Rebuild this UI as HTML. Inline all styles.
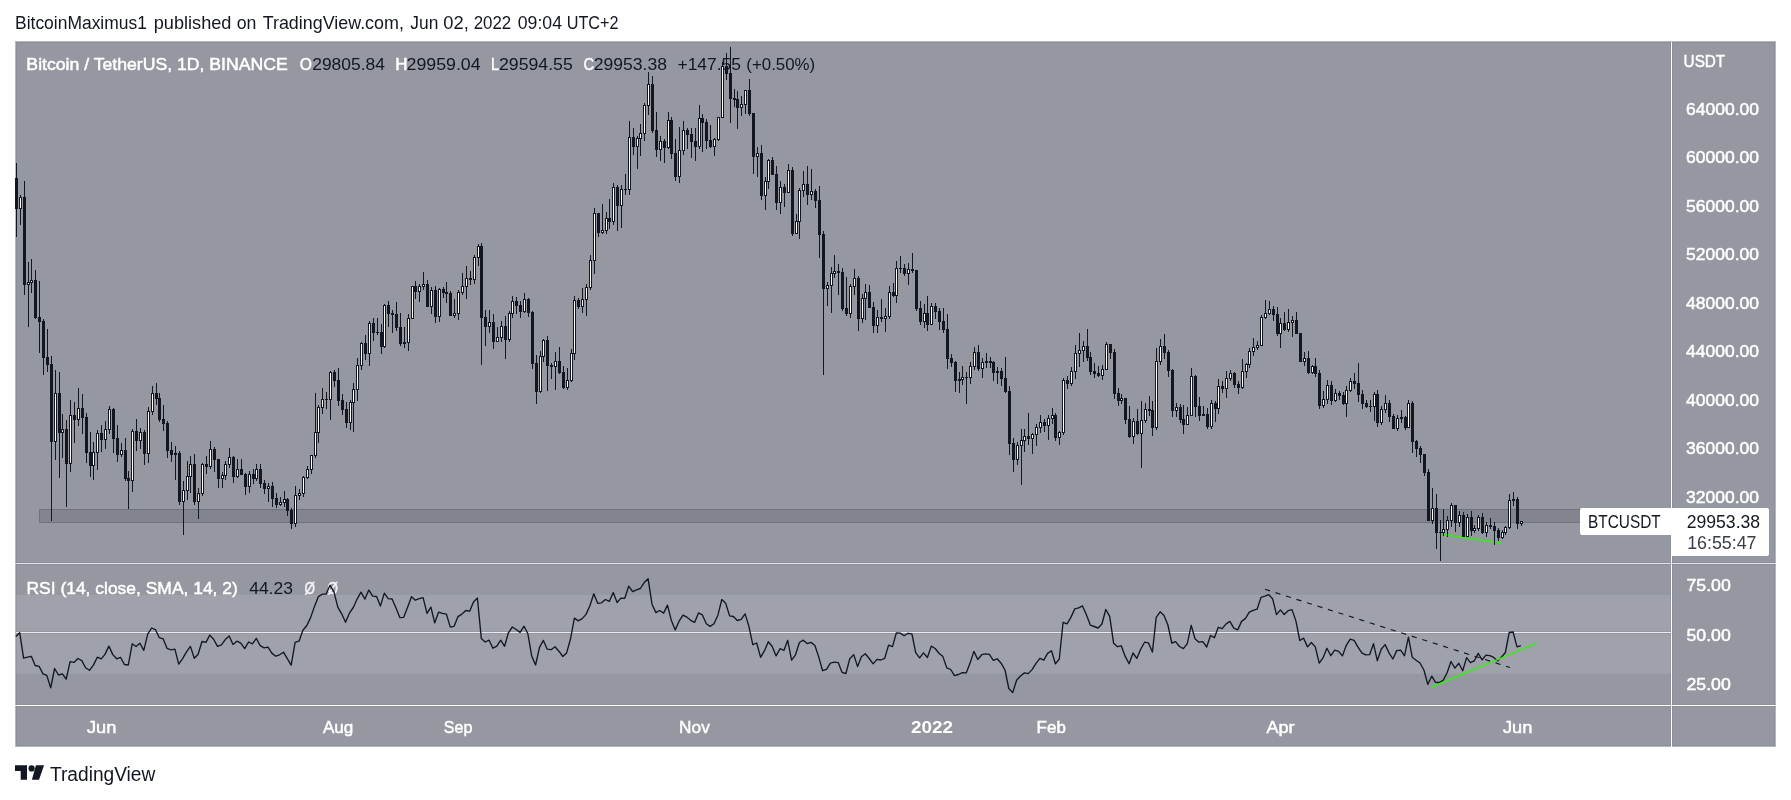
<!DOCTYPE html>
<html><head><meta charset="utf-8"><style>
html,body{margin:0;padding:0;background:#fff;}
body{width:1791px;height:800px;overflow:hidden;}
svg text{font-family:"Liberation Sans",sans-serif;}
</style></head><body>
<svg width="1791" height="800" viewBox="0 0 1791 800" style="display:block;will-change:transform">
<rect x="15" y="41" width="1761" height="706" fill="#b4b7c1"/>
<rect x="16" y="42" width="1759" height="704" fill="#9598a1"/>
<rect x="16" y="594.9" width="1655" height="78.8" fill="#a0a2ab"/>
<rect x="39.5" y="509.5" width="1631.5" height="13" fill="#82858f" stroke="#6f727c" stroke-width="1"/>
<line x1="1441" y1="534.2" x2="1501.7" y2="543.3" stroke="#2ef20c" stroke-width="1.5"/>
<text x="26.39" y="70.1" font-size="17.4" fill="#fff" font-weight="normal" textLength="261.3" lengthAdjust="spacingAndGlyphs" stroke="#fff" stroke-width="0.5">Bitcoin / TetherUS, 1D, BINANCE</text>
<text x="299.8" y="70.1" font-size="17.4" fill="#fff" font-weight="normal" textLength="12.2" lengthAdjust="spacingAndGlyphs" stroke="#fff" stroke-width="0.5">O</text>
<text x="312.2" y="70.1" font-size="17.4" fill="#131722" font-weight="normal" textLength="72.8" lengthAdjust="spacingAndGlyphs">29805.84</text>
<text x="395.32" y="70.1" font-size="17.4" fill="#fff" font-weight="normal" textLength="12.3" lengthAdjust="spacingAndGlyphs" stroke="#fff" stroke-width="0.5">H</text>
<text x="406.58" y="70.1" font-size="17.4" fill="#131722" font-weight="normal" textLength="74.0" lengthAdjust="spacingAndGlyphs">29959.04</text>
<text x="490.97" y="70.1" font-size="17.4" fill="#fff" font-weight="normal" textLength="8.1" lengthAdjust="spacingAndGlyphs" stroke="#fff" stroke-width="0.5">L</text>
<text x="498.98" y="70.1" font-size="17.4" fill="#131722" font-weight="normal" textLength="73.8" lengthAdjust="spacingAndGlyphs">29594.55</text>
<text x="583.5" y="70.1" font-size="17.4" fill="#fff" font-weight="normal" textLength="10.6" lengthAdjust="spacingAndGlyphs" stroke="#fff" stroke-width="0.5">C</text>
<text x="593.79" y="70.1" font-size="17.4" fill="#131722" font-weight="normal" textLength="73.2" lengthAdjust="spacingAndGlyphs">29953.38</text>
<text x="677.5" y="70.1" font-size="17.4" fill="#131722" font-weight="normal" textLength="63.4" lengthAdjust="spacingAndGlyphs">+147.55</text>
<text x="746.33" y="70.1" font-size="17.4" fill="#131722" font-weight="normal" textLength="68.9" lengthAdjust="spacingAndGlyphs">(+0.50%)</text>
<text x="26.5" y="593.5" font-size="17.4" fill="#fff" font-weight="normal" textLength="211.3" lengthAdjust="spacingAndGlyphs" stroke="#fff" stroke-width="0.5">RSI (14, close, SMA, 14, 2)</text>
<text x="249.2" y="593.5" font-size="17.4" fill="#131722" font-weight="normal" textLength="43.7" lengthAdjust="spacingAndGlyphs">44.23</text>
<text x="304.4" y="593.5" font-size="17.4" fill="#f4f4f6" font-weight="normal" textLength="10.5" lengthAdjust="spacingAndGlyphs" stroke="#f4f4f6" stroke-width="0.5">Ø</text>
<text x="327.6" y="593.5" font-size="17.4" fill="#f4f4f6" font-weight="normal" textLength="10.4" lengthAdjust="spacingAndGlyphs" stroke="#f4f4f6" stroke-width="0.5">Ø</text>
<g shape-rendering="crispEdges"><rect x="16" y="163" width="1" height="74" fill="#131722"/>
<rect x="15" y="178" width="3" height="31" fill="#131722"/>
<rect x="20" y="195" width="1" height="30" fill="#131722"/>
<rect x="19" y="197" width="3" height="12" fill="#131722"/>
<rect x="20" y="198" width="1" height="10" fill="#fff"/>
<rect x="24" y="181" width="1" height="114" fill="#131722"/>
<rect x="23" y="197" width="3" height="88" fill="#131722"/>
<rect x="28" y="262" width="1" height="65" fill="#131722"/>
<rect x="27" y="282" width="3" height="3" fill="#131722"/>
<rect x="28" y="283" width="1" height="1" fill="#fff"/>
<rect x="31" y="259" width="1" height="34" fill="#131722"/>
<rect x="30" y="280" width="3" height="3" fill="#131722"/>
<rect x="31" y="281" width="1" height="1" fill="#fff"/>
<rect x="35" y="270" width="1" height="49" fill="#131722"/>
<rect x="34" y="280" width="3" height="38" fill="#131722"/>
<rect x="39" y="281" width="1" height="72" fill="#131722"/>
<rect x="38" y="317" width="3" height="5" fill="#131722"/>
<rect x="43" y="319" width="1" height="56" fill="#131722"/>
<rect x="42" y="321" width="3" height="37" fill="#131722"/>
<rect x="47" y="329" width="1" height="43" fill="#131722"/>
<rect x="46" y="357" width="3" height="8" fill="#131722"/>
<rect x="51" y="356" width="1" height="165" fill="#131722"/>
<rect x="50" y="364" width="3" height="78" fill="#131722"/>
<rect x="55" y="370" width="1" height="90" fill="#131722"/>
<rect x="54" y="393" width="3" height="49" fill="#131722"/>
<rect x="55" y="394" width="1" height="47" fill="#fff"/>
<rect x="59" y="372" width="1" height="106" fill="#131722"/>
<rect x="58" y="393" width="3" height="40" fill="#131722"/>
<rect x="62" y="414" width="1" height="44" fill="#131722"/>
<rect x="61" y="429" width="3" height="4" fill="#131722"/>
<rect x="62" y="430" width="1" height="2" fill="#fff"/>
<rect x="66" y="420" width="1" height="87" fill="#131722"/>
<rect x="65" y="429" width="3" height="35" fill="#131722"/>
<rect x="70" y="400" width="1" height="72" fill="#131722"/>
<rect x="69" y="415" width="3" height="49" fill="#131722"/>
<rect x="70" y="416" width="1" height="47" fill="#fff"/>
<rect x="74" y="402" width="1" height="41" fill="#131722"/>
<rect x="73" y="415" width="3" height="5" fill="#131722"/>
<rect x="78" y="388" width="1" height="38" fill="#131722"/>
<rect x="77" y="408" width="3" height="12" fill="#131722"/>
<rect x="78" y="409" width="1" height="10" fill="#fff"/>
<rect x="82" y="394" width="1" height="40" fill="#131722"/>
<rect x="81" y="408" width="3" height="10" fill="#131722"/>
<rect x="86" y="413" width="1" height="50" fill="#131722"/>
<rect x="85" y="417" width="3" height="36" fill="#131722"/>
<rect x="90" y="432" width="1" height="45" fill="#131722"/>
<rect x="89" y="452" width="3" height="14" fill="#131722"/>
<rect x="93" y="442" width="1" height="38" fill="#131722"/>
<rect x="92" y="452" width="3" height="14" fill="#131722"/>
<rect x="93" y="453" width="1" height="12" fill="#fff"/>
<rect x="97" y="430" width="1" height="40" fill="#131722"/>
<rect x="96" y="433" width="3" height="20" fill="#131722"/>
<rect x="97" y="434" width="1" height="18" fill="#fff"/>
<rect x="101" y="425" width="1" height="27" fill="#131722"/>
<rect x="100" y="433" width="3" height="7" fill="#131722"/>
<rect x="105" y="421" width="1" height="28" fill="#131722"/>
<rect x="104" y="429" width="3" height="11" fill="#131722"/>
<rect x="105" y="430" width="1" height="9" fill="#fff"/>
<rect x="109" y="406" width="1" height="28" fill="#131722"/>
<rect x="108" y="409" width="3" height="21" fill="#131722"/>
<rect x="109" y="410" width="1" height="19" fill="#fff"/>
<rect x="113" y="408" width="1" height="45" fill="#131722"/>
<rect x="112" y="409" width="3" height="30" fill="#131722"/>
<rect x="117" y="425" width="1" height="37" fill="#131722"/>
<rect x="116" y="438" width="3" height="17" fill="#131722"/>
<rect x="121" y="443" width="1" height="14" fill="#131722"/>
<rect x="120" y="450" width="3" height="5" fill="#131722"/>
<rect x="121" y="451" width="1" height="3" fill="#fff"/>
<rect x="125" y="438" width="1" height="43" fill="#131722"/>
<rect x="124" y="450" width="3" height="29" fill="#131722"/>
<rect x="128" y="471" width="1" height="38" fill="#131722"/>
<rect x="127" y="478" width="3" height="3" fill="#131722"/>
<rect x="132" y="429" width="1" height="63" fill="#131722"/>
<rect x="131" y="431" width="3" height="50" fill="#131722"/>
<rect x="132" y="432" width="1" height="48" fill="#fff"/>
<rect x="136" y="419" width="1" height="32" fill="#131722"/>
<rect x="135" y="431" width="3" height="10" fill="#131722"/>
<rect x="140" y="428" width="1" height="21" fill="#131722"/>
<rect x="139" y="432" width="3" height="9" fill="#131722"/>
<rect x="140" y="433" width="1" height="7" fill="#fff"/>
<rect x="144" y="430" width="1" height="35" fill="#131722"/>
<rect x="143" y="432" width="3" height="22" fill="#131722"/>
<rect x="148" y="407" width="1" height="56" fill="#131722"/>
<rect x="147" y="411" width="3" height="43" fill="#131722"/>
<rect x="148" y="412" width="1" height="41" fill="#fff"/>
<rect x="152" y="386" width="1" height="29" fill="#131722"/>
<rect x="151" y="393" width="3" height="19" fill="#131722"/>
<rect x="152" y="394" width="1" height="17" fill="#fff"/>
<rect x="156" y="383" width="1" height="22" fill="#131722"/>
<rect x="155" y="393" width="3" height="6" fill="#131722"/>
<rect x="159" y="393" width="1" height="29" fill="#131722"/>
<rect x="158" y="398" width="3" height="22" fill="#131722"/>
<rect x="163" y="405" width="1" height="26" fill="#131722"/>
<rect x="162" y="419" width="3" height="5" fill="#131722"/>
<rect x="167" y="421" width="1" height="37" fill="#131722"/>
<rect x="166" y="423" width="3" height="28" fill="#131722"/>
<rect x="171" y="442" width="1" height="20" fill="#131722"/>
<rect x="170" y="450" width="3" height="5" fill="#131722"/>
<rect x="175" y="446" width="1" height="34" fill="#131722"/>
<rect x="174" y="453" width="3" height="2" fill="#131722"/>
<rect x="179" y="451" width="1" height="54" fill="#131722"/>
<rect x="178" y="453" width="3" height="49" fill="#131722"/>
<rect x="183" y="481" width="1" height="54" fill="#131722"/>
<rect x="182" y="490" width="3" height="12" fill="#131722"/>
<rect x="183" y="491" width="1" height="10" fill="#fff"/>
<rect x="187" y="461" width="1" height="39" fill="#131722"/>
<rect x="186" y="476" width="3" height="15" fill="#131722"/>
<rect x="187" y="477" width="1" height="13" fill="#fff"/>
<rect x="190" y="456" width="1" height="37" fill="#131722"/>
<rect x="189" y="464" width="3" height="13" fill="#131722"/>
<rect x="190" y="465" width="1" height="11" fill="#fff"/>
<rect x="194" y="454" width="1" height="51" fill="#131722"/>
<rect x="193" y="464" width="3" height="38" fill="#131722"/>
<rect x="198" y="488" width="1" height="31" fill="#131722"/>
<rect x="197" y="493" width="3" height="9" fill="#131722"/>
<rect x="198" y="494" width="1" height="7" fill="#fff"/>
<rect x="202" y="463" width="1" height="33" fill="#131722"/>
<rect x="201" y="464" width="3" height="30" fill="#131722"/>
<rect x="202" y="465" width="1" height="28" fill="#fff"/>
<rect x="206" y="456" width="1" height="18" fill="#131722"/>
<rect x="205" y="464" width="3" height="3" fill="#131722"/>
<rect x="210" y="441" width="1" height="28" fill="#131722"/>
<rect x="209" y="449" width="3" height="18" fill="#131722"/>
<rect x="210" y="450" width="1" height="16" fill="#fff"/>
<rect x="214" y="447" width="1" height="25" fill="#131722"/>
<rect x="213" y="449" width="3" height="11" fill="#131722"/>
<rect x="218" y="459" width="1" height="29" fill="#131722"/>
<rect x="217" y="459" width="3" height="20" fill="#131722"/>
<rect x="222" y="472" width="1" height="16" fill="#131722"/>
<rect x="221" y="475" width="3" height="4" fill="#131722"/>
<rect x="222" y="476" width="1" height="2" fill="#fff"/>
<rect x="225" y="461" width="1" height="19" fill="#131722"/>
<rect x="224" y="464" width="3" height="12" fill="#131722"/>
<rect x="225" y="465" width="1" height="10" fill="#fff"/>
<rect x="229" y="448" width="1" height="20" fill="#131722"/>
<rect x="228" y="457" width="3" height="8" fill="#131722"/>
<rect x="229" y="458" width="1" height="6" fill="#fff"/>
<rect x="233" y="456" width="1" height="27" fill="#131722"/>
<rect x="232" y="457" width="3" height="20" fill="#131722"/>
<rect x="237" y="459" width="1" height="19" fill="#131722"/>
<rect x="236" y="469" width="3" height="8" fill="#131722"/>
<rect x="237" y="470" width="1" height="6" fill="#fff"/>
<rect x="241" y="459" width="1" height="16" fill="#131722"/>
<rect x="240" y="469" width="3" height="6" fill="#131722"/>
<rect x="245" y="473" width="1" height="22" fill="#131722"/>
<rect x="244" y="474" width="3" height="13" fill="#131722"/>
<rect x="249" y="471" width="1" height="22" fill="#131722"/>
<rect x="248" y="474" width="3" height="13" fill="#131722"/>
<rect x="249" y="475" width="1" height="11" fill="#fff"/>
<rect x="253" y="469" width="1" height="15" fill="#131722"/>
<rect x="252" y="474" width="3" height="5" fill="#131722"/>
<rect x="256" y="464" width="1" height="17" fill="#131722"/>
<rect x="255" y="469" width="3" height="10" fill="#131722"/>
<rect x="256" y="470" width="1" height="8" fill="#fff"/>
<rect x="260" y="464" width="1" height="24" fill="#131722"/>
<rect x="259" y="469" width="3" height="15" fill="#131722"/>
<rect x="264" y="480" width="1" height="14" fill="#131722"/>
<rect x="263" y="483" width="3" height="6" fill="#131722"/>
<rect x="268" y="483" width="1" height="19" fill="#131722"/>
<rect x="267" y="486" width="3" height="3" fill="#131722"/>
<rect x="268" y="487" width="1" height="1" fill="#fff"/>
<rect x="272" y="482" width="1" height="25" fill="#131722"/>
<rect x="271" y="486" width="3" height="13" fill="#131722"/>
<rect x="276" y="493" width="1" height="15" fill="#131722"/>
<rect x="275" y="498" width="3" height="7" fill="#131722"/>
<rect x="280" y="497" width="1" height="9" fill="#131722"/>
<rect x="279" y="502" width="3" height="3" fill="#131722"/>
<rect x="280" y="503" width="1" height="1" fill="#fff"/>
<rect x="284" y="491" width="1" height="16" fill="#131722"/>
<rect x="283" y="499" width="3" height="4" fill="#131722"/>
<rect x="284" y="500" width="1" height="2" fill="#fff"/>
<rect x="287" y="498" width="1" height="18" fill="#131722"/>
<rect x="286" y="499" width="3" height="12" fill="#131722"/>
<rect x="291" y="508" width="1" height="21" fill="#131722"/>
<rect x="290" y="510" width="3" height="14" fill="#131722"/>
<rect x="295" y="486" width="1" height="41" fill="#131722"/>
<rect x="294" y="495" width="3" height="29" fill="#131722"/>
<rect x="295" y="496" width="1" height="27" fill="#fff"/>
<rect x="299" y="489" width="1" height="11" fill="#131722"/>
<rect x="298" y="493" width="3" height="3" fill="#131722"/>
<rect x="299" y="494" width="1" height="1" fill="#fff"/>
<rect x="303" y="476" width="1" height="21" fill="#131722"/>
<rect x="302" y="477" width="3" height="17" fill="#131722"/>
<rect x="303" y="478" width="1" height="15" fill="#fff"/>
<rect x="307" y="466" width="1" height="13" fill="#131722"/>
<rect x="306" y="469" width="3" height="9" fill="#131722"/>
<rect x="307" y="470" width="1" height="7" fill="#fff"/>
<rect x="311" y="455" width="1" height="19" fill="#131722"/>
<rect x="310" y="455" width="3" height="15" fill="#131722"/>
<rect x="311" y="456" width="1" height="13" fill="#fff"/>
<rect x="315" y="393" width="1" height="65" fill="#131722"/>
<rect x="314" y="432" width="3" height="24" fill="#131722"/>
<rect x="315" y="433" width="1" height="22" fill="#fff"/>
<rect x="318" y="405" width="1" height="38" fill="#131722"/>
<rect x="317" y="407" width="3" height="26" fill="#131722"/>
<rect x="318" y="408" width="1" height="24" fill="#fff"/>
<rect x="322" y="388" width="1" height="26" fill="#131722"/>
<rect x="321" y="399" width="3" height="9" fill="#131722"/>
<rect x="322" y="400" width="1" height="7" fill="#fff"/>
<rect x="326" y="392" width="1" height="17" fill="#131722"/>
<rect x="325" y="399" width="3" height="1" fill="#131722"/>
<rect x="330" y="371" width="1" height="49" fill="#131722"/>
<rect x="329" y="372" width="3" height="28" fill="#131722"/>
<rect x="330" y="373" width="1" height="26" fill="#fff"/>
<rect x="334" y="370" width="1" height="17" fill="#131722"/>
<rect x="333" y="372" width="3" height="9" fill="#131722"/>
<rect x="338" y="368" width="1" height="38" fill="#131722"/>
<rect x="337" y="380" width="3" height="21" fill="#131722"/>
<rect x="342" y="394" width="1" height="21" fill="#131722"/>
<rect x="341" y="400" width="3" height="10" fill="#131722"/>
<rect x="346" y="402" width="1" height="26" fill="#131722"/>
<rect x="345" y="409" width="3" height="14" fill="#131722"/>
<rect x="350" y="400" width="1" height="30" fill="#131722"/>
<rect x="349" y="402" width="3" height="21" fill="#131722"/>
<rect x="350" y="403" width="1" height="19" fill="#fff"/>
<rect x="353" y="383" width="1" height="49" fill="#131722"/>
<rect x="352" y="389" width="3" height="14" fill="#131722"/>
<rect x="353" y="390" width="1" height="12" fill="#fff"/>
<rect x="357" y="358" width="1" height="43" fill="#131722"/>
<rect x="356" y="365" width="3" height="25" fill="#131722"/>
<rect x="357" y="366" width="1" height="23" fill="#fff"/>
<rect x="361" y="342" width="1" height="28" fill="#131722"/>
<rect x="360" y="343" width="3" height="23" fill="#131722"/>
<rect x="361" y="344" width="1" height="21" fill="#fff"/>
<rect x="365" y="335" width="1" height="25" fill="#131722"/>
<rect x="364" y="343" width="3" height="11" fill="#131722"/>
<rect x="369" y="321" width="1" height="45" fill="#131722"/>
<rect x="368" y="323" width="3" height="31" fill="#131722"/>
<rect x="369" y="324" width="1" height="29" fill="#fff"/>
<rect x="373" y="318" width="1" height="23" fill="#131722"/>
<rect x="372" y="323" width="3" height="10" fill="#131722"/>
<rect x="377" y="318" width="1" height="17" fill="#131722"/>
<rect x="376" y="332" width="3" height="1" fill="#131722"/>
<rect x="381" y="324" width="1" height="30" fill="#131722"/>
<rect x="380" y="332" width="3" height="15" fill="#131722"/>
<rect x="384" y="304" width="1" height="44" fill="#131722"/>
<rect x="383" y="305" width="3" height="42" fill="#131722"/>
<rect x="384" y="306" width="1" height="40" fill="#fff"/>
<rect x="388" y="301" width="1" height="26" fill="#131722"/>
<rect x="387" y="305" width="3" height="9" fill="#131722"/>
<rect x="392" y="310" width="1" height="23" fill="#131722"/>
<rect x="391" y="313" width="3" height="2" fill="#131722"/>
<rect x="396" y="302" width="1" height="29" fill="#131722"/>
<rect x="395" y="314" width="3" height="14" fill="#131722"/>
<rect x="400" y="313" width="1" height="33" fill="#131722"/>
<rect x="399" y="327" width="3" height="17" fill="#131722"/>
<rect x="404" y="327" width="1" height="21" fill="#131722"/>
<rect x="403" y="342" width="3" height="2" fill="#131722"/>
<rect x="408" y="314" width="1" height="37" fill="#131722"/>
<rect x="407" y="318" width="3" height="25" fill="#131722"/>
<rect x="408" y="319" width="1" height="23" fill="#fff"/>
<rect x="412" y="286" width="1" height="33" fill="#131722"/>
<rect x="411" y="286" width="3" height="33" fill="#131722"/>
<rect x="412" y="287" width="1" height="31" fill="#fff"/>
<rect x="415" y="281" width="1" height="18" fill="#131722"/>
<rect x="414" y="286" width="3" height="6" fill="#131722"/>
<rect x="419" y="284" width="1" height="18" fill="#131722"/>
<rect x="418" y="286" width="3" height="6" fill="#131722"/>
<rect x="419" y="287" width="1" height="4" fill="#fff"/>
<rect x="423" y="272" width="1" height="18" fill="#131722"/>
<rect x="422" y="284" width="3" height="3" fill="#131722"/>
<rect x="423" y="285" width="1" height="1" fill="#fff"/>
<rect x="427" y="280" width="1" height="27" fill="#131722"/>
<rect x="426" y="284" width="3" height="23" fill="#131722"/>
<rect x="431" y="287" width="1" height="27" fill="#131722"/>
<rect x="430" y="290" width="3" height="17" fill="#131722"/>
<rect x="431" y="291" width="1" height="15" fill="#fff"/>
<rect x="435" y="286" width="1" height="37" fill="#131722"/>
<rect x="434" y="290" width="3" height="27" fill="#131722"/>
<rect x="439" y="288" width="1" height="34" fill="#131722"/>
<rect x="438" y="289" width="3" height="28" fill="#131722"/>
<rect x="439" y="290" width="1" height="26" fill="#fff"/>
<rect x="443" y="287" width="1" height="11" fill="#131722"/>
<rect x="442" y="289" width="3" height="4" fill="#131722"/>
<rect x="446" y="282" width="1" height="21" fill="#131722"/>
<rect x="445" y="292" width="3" height="2" fill="#131722"/>
<rect x="450" y="291" width="1" height="25" fill="#131722"/>
<rect x="449" y="293" width="3" height="23" fill="#131722"/>
<rect x="454" y="299" width="1" height="19" fill="#131722"/>
<rect x="453" y="313" width="3" height="3" fill="#131722"/>
<rect x="454" y="314" width="1" height="1" fill="#fff"/>
<rect x="458" y="290" width="1" height="30" fill="#131722"/>
<rect x="457" y="292" width="3" height="22" fill="#131722"/>
<rect x="458" y="293" width="1" height="20" fill="#fff"/>
<rect x="462" y="273" width="1" height="22" fill="#131722"/>
<rect x="461" y="286" width="3" height="7" fill="#131722"/>
<rect x="462" y="287" width="1" height="5" fill="#fff"/>
<rect x="466" y="266" width="1" height="33" fill="#131722"/>
<rect x="465" y="278" width="3" height="9" fill="#131722"/>
<rect x="466" y="279" width="1" height="7" fill="#fff"/>
<rect x="470" y="271" width="1" height="14" fill="#131722"/>
<rect x="469" y="278" width="3" height="2" fill="#131722"/>
<rect x="474" y="255" width="1" height="29" fill="#131722"/>
<rect x="473" y="257" width="3" height="23" fill="#131722"/>
<rect x="474" y="258" width="1" height="21" fill="#fff"/>
<rect x="478" y="244" width="1" height="22" fill="#131722"/>
<rect x="477" y="246" width="3" height="12" fill="#131722"/>
<rect x="478" y="247" width="1" height="10" fill="#fff"/>
<rect x="481" y="243" width="1" height="122" fill="#131722"/>
<rect x="480" y="246" width="3" height="72" fill="#131722"/>
<rect x="485" y="310" width="1" height="36" fill="#131722"/>
<rect x="484" y="317" width="3" height="10" fill="#131722"/>
<rect x="489" y="310" width="1" height="23" fill="#131722"/>
<rect x="488" y="322" width="3" height="5" fill="#131722"/>
<rect x="489" y="323" width="1" height="3" fill="#fff"/>
<rect x="493" y="314" width="1" height="35" fill="#131722"/>
<rect x="492" y="322" width="3" height="20" fill="#131722"/>
<rect x="497" y="327" width="1" height="15" fill="#131722"/>
<rect x="496" y="337" width="3" height="5" fill="#131722"/>
<rect x="497" y="338" width="1" height="3" fill="#fff"/>
<rect x="501" y="321" width="1" height="21" fill="#131722"/>
<rect x="500" y="326" width="3" height="12" fill="#131722"/>
<rect x="501" y="327" width="1" height="10" fill="#fff"/>
<rect x="505" y="316" width="1" height="43" fill="#131722"/>
<rect x="504" y="326" width="3" height="14" fill="#131722"/>
<rect x="509" y="311" width="1" height="31" fill="#131722"/>
<rect x="508" y="313" width="3" height="27" fill="#131722"/>
<rect x="509" y="314" width="1" height="25" fill="#fff"/>
<rect x="512" y="296" width="1" height="22" fill="#131722"/>
<rect x="511" y="301" width="3" height="13" fill="#131722"/>
<rect x="512" y="302" width="1" height="11" fill="#fff"/>
<rect x="516" y="297" width="1" height="17" fill="#131722"/>
<rect x="515" y="301" width="3" height="5" fill="#131722"/>
<rect x="520" y="301" width="1" height="17" fill="#131722"/>
<rect x="519" y="305" width="3" height="7" fill="#131722"/>
<rect x="524" y="293" width="1" height="20" fill="#131722"/>
<rect x="523" y="299" width="3" height="13" fill="#131722"/>
<rect x="524" y="300" width="1" height="11" fill="#fff"/>
<rect x="528" y="298" width="1" height="19" fill="#131722"/>
<rect x="527" y="299" width="3" height="14" fill="#131722"/>
<rect x="532" y="311" width="1" height="58" fill="#131722"/>
<rect x="531" y="312" width="3" height="52" fill="#131722"/>
<rect x="536" y="355" width="1" height="49" fill="#131722"/>
<rect x="535" y="363" width="3" height="29" fill="#131722"/>
<rect x="540" y="351" width="1" height="42" fill="#131722"/>
<rect x="539" y="356" width="3" height="36" fill="#131722"/>
<rect x="540" y="357" width="1" height="34" fill="#fff"/>
<rect x="543" y="339" width="1" height="23" fill="#131722"/>
<rect x="542" y="340" width="3" height="17" fill="#131722"/>
<rect x="543" y="341" width="1" height="15" fill="#fff"/>
<rect x="547" y="336" width="1" height="55" fill="#131722"/>
<rect x="546" y="340" width="3" height="26" fill="#131722"/>
<rect x="551" y="363" width="1" height="16" fill="#131722"/>
<rect x="550" y="365" width="3" height="2" fill="#131722"/>
<rect x="555" y="352" width="1" height="38" fill="#131722"/>
<rect x="554" y="361" width="3" height="6" fill="#131722"/>
<rect x="555" y="362" width="1" height="4" fill="#fff"/>
<rect x="559" y="347" width="1" height="27" fill="#131722"/>
<rect x="558" y="361" width="3" height="12" fill="#131722"/>
<rect x="563" y="366" width="1" height="23" fill="#131722"/>
<rect x="562" y="372" width="3" height="16" fill="#131722"/>
<rect x="567" y="368" width="1" height="22" fill="#131722"/>
<rect x="566" y="380" width="3" height="8" fill="#131722"/>
<rect x="567" y="381" width="1" height="6" fill="#fff"/>
<rect x="571" y="349" width="1" height="33" fill="#131722"/>
<rect x="570" y="353" width="3" height="28" fill="#131722"/>
<rect x="571" y="354" width="1" height="26" fill="#fff"/>
<rect x="574" y="296" width="1" height="64" fill="#131722"/>
<rect x="573" y="300" width="3" height="54" fill="#131722"/>
<rect x="574" y="301" width="1" height="52" fill="#fff"/>
<rect x="578" y="298" width="1" height="11" fill="#131722"/>
<rect x="577" y="300" width="3" height="7" fill="#131722"/>
<rect x="582" y="288" width="1" height="25" fill="#131722"/>
<rect x="581" y="299" width="3" height="8" fill="#131722"/>
<rect x="582" y="300" width="1" height="6" fill="#fff"/>
<rect x="586" y="284" width="1" height="32" fill="#131722"/>
<rect x="585" y="287" width="3" height="13" fill="#131722"/>
<rect x="586" y="288" width="1" height="11" fill="#fff"/>
<rect x="590" y="255" width="1" height="35" fill="#131722"/>
<rect x="589" y="260" width="3" height="28" fill="#131722"/>
<rect x="590" y="261" width="1" height="26" fill="#fff"/>
<rect x="594" y="208" width="1" height="66" fill="#131722"/>
<rect x="593" y="213" width="3" height="48" fill="#131722"/>
<rect x="594" y="214" width="1" height="46" fill="#fff"/>
<rect x="598" y="213" width="1" height="24" fill="#131722"/>
<rect x="597" y="213" width="3" height="20" fill="#131722"/>
<rect x="602" y="204" width="1" height="30" fill="#131722"/>
<rect x="601" y="230" width="3" height="3" fill="#131722"/>
<rect x="602" y="231" width="1" height="1" fill="#fff"/>
<rect x="606" y="212" width="1" height="22" fill="#131722"/>
<rect x="605" y="218" width="3" height="13" fill="#131722"/>
<rect x="606" y="219" width="1" height="11" fill="#fff"/>
<rect x="609" y="199" width="1" height="30" fill="#131722"/>
<rect x="608" y="218" width="3" height="4" fill="#131722"/>
<rect x="613" y="183" width="1" height="42" fill="#131722"/>
<rect x="612" y="187" width="3" height="35" fill="#131722"/>
<rect x="613" y="188" width="1" height="33" fill="#fff"/>
<rect x="617" y="185" width="1" height="46" fill="#131722"/>
<rect x="616" y="187" width="3" height="19" fill="#131722"/>
<rect x="621" y="185" width="1" height="43" fill="#131722"/>
<rect x="620" y="189" width="3" height="17" fill="#131722"/>
<rect x="621" y="190" width="1" height="15" fill="#fff"/>
<rect x="625" y="174" width="1" height="21" fill="#131722"/>
<rect x="624" y="189" width="3" height="1" fill="#131722"/>
<rect x="629" y="121" width="1" height="74" fill="#131722"/>
<rect x="628" y="137" width="3" height="53" fill="#131722"/>
<rect x="629" y="138" width="1" height="51" fill="#fff"/>
<rect x="633" y="128" width="1" height="27" fill="#131722"/>
<rect x="632" y="137" width="3" height="10" fill="#131722"/>
<rect x="637" y="136" width="1" height="33" fill="#131722"/>
<rect x="636" y="138" width="3" height="9" fill="#131722"/>
<rect x="637" y="139" width="1" height="7" fill="#fff"/>
<rect x="640" y="124" width="1" height="32" fill="#131722"/>
<rect x="639" y="133" width="3" height="6" fill="#131722"/>
<rect x="640" y="134" width="1" height="4" fill="#fff"/>
<rect x="644" y="103" width="1" height="38" fill="#131722"/>
<rect x="643" y="105" width="3" height="29" fill="#131722"/>
<rect x="644" y="106" width="1" height="27" fill="#fff"/>
<rect x="648" y="72" width="1" height="43" fill="#131722"/>
<rect x="647" y="84" width="3" height="22" fill="#131722"/>
<rect x="648" y="85" width="1" height="20" fill="#fff"/>
<rect x="652" y="76" width="1" height="57" fill="#131722"/>
<rect x="651" y="84" width="3" height="47" fill="#131722"/>
<rect x="656" y="112" width="1" height="45" fill="#131722"/>
<rect x="655" y="130" width="3" height="20" fill="#131722"/>
<rect x="660" y="136" width="1" height="25" fill="#131722"/>
<rect x="659" y="141" width="3" height="9" fill="#131722"/>
<rect x="660" y="142" width="1" height="7" fill="#fff"/>
<rect x="664" y="139" width="1" height="24" fill="#131722"/>
<rect x="663" y="141" width="3" height="7" fill="#131722"/>
<rect x="668" y="112" width="1" height="37" fill="#131722"/>
<rect x="667" y="120" width="3" height="28" fill="#131722"/>
<rect x="668" y="121" width="1" height="26" fill="#fff"/>
<rect x="671" y="117" width="1" height="42" fill="#131722"/>
<rect x="670" y="120" width="3" height="34" fill="#131722"/>
<rect x="675" y="139" width="1" height="42" fill="#131722"/>
<rect x="674" y="153" width="3" height="24" fill="#131722"/>
<rect x="679" y="127" width="1" height="56" fill="#131722"/>
<rect x="678" y="150" width="3" height="27" fill="#131722"/>
<rect x="679" y="151" width="1" height="25" fill="#fff"/>
<rect x="683" y="121" width="1" height="34" fill="#131722"/>
<rect x="682" y="130" width="3" height="21" fill="#131722"/>
<rect x="683" y="131" width="1" height="19" fill="#fff"/>
<rect x="687" y="128" width="1" height="21" fill="#131722"/>
<rect x="686" y="130" width="3" height="5" fill="#131722"/>
<rect x="691" y="128" width="1" height="30" fill="#131722"/>
<rect x="690" y="134" width="3" height="8" fill="#131722"/>
<rect x="695" y="128" width="1" height="33" fill="#131722"/>
<rect x="694" y="141" width="3" height="6" fill="#131722"/>
<rect x="699" y="105" width="1" height="44" fill="#131722"/>
<rect x="698" y="118" width="3" height="29" fill="#131722"/>
<rect x="699" y="119" width="1" height="27" fill="#fff"/>
<rect x="702" y="114" width="1" height="38" fill="#131722"/>
<rect x="701" y="118" width="3" height="5" fill="#131722"/>
<rect x="706" y="119" width="1" height="30" fill="#131722"/>
<rect x="705" y="122" width="3" height="19" fill="#131722"/>
<rect x="710" y="125" width="1" height="23" fill="#131722"/>
<rect x="709" y="140" width="3" height="7" fill="#131722"/>
<rect x="714" y="138" width="1" height="18" fill="#131722"/>
<rect x="713" y="139" width="3" height="8" fill="#131722"/>
<rect x="714" y="140" width="1" height="6" fill="#fff"/>
<rect x="718" y="117" width="1" height="24" fill="#131722"/>
<rect x="717" y="117" width="3" height="23" fill="#131722"/>
<rect x="718" y="118" width="1" height="21" fill="#fff"/>
<rect x="722" y="62" width="1" height="55" fill="#131722"/>
<rect x="721" y="66" width="3" height="52" fill="#131722"/>
<rect x="722" y="67" width="1" height="50" fill="#fff"/>
<rect x="726" y="53" width="1" height="27" fill="#131722"/>
<rect x="725" y="66" width="3" height="8" fill="#131722"/>
<rect x="730" y="47" width="1" height="76" fill="#131722"/>
<rect x="729" y="73" width="3" height="26" fill="#131722"/>
<rect x="734" y="89" width="1" height="18" fill="#131722"/>
<rect x="733" y="98" width="3" height="2" fill="#131722"/>
<rect x="737" y="91" width="1" height="38" fill="#131722"/>
<rect x="736" y="99" width="3" height="9" fill="#131722"/>
<rect x="741" y="96" width="1" height="20" fill="#131722"/>
<rect x="740" y="104" width="3" height="4" fill="#131722"/>
<rect x="741" y="105" width="1" height="2" fill="#fff"/>
<rect x="745" y="90" width="1" height="24" fill="#131722"/>
<rect x="744" y="90" width="3" height="15" fill="#131722"/>
<rect x="745" y="91" width="1" height="13" fill="#fff"/>
<rect x="749" y="79" width="1" height="37" fill="#131722"/>
<rect x="748" y="90" width="3" height="24" fill="#131722"/>
<rect x="753" y="113" width="1" height="61" fill="#131722"/>
<rect x="752" y="113" width="3" height="44" fill="#131722"/>
<rect x="757" y="147" width="1" height="30" fill="#131722"/>
<rect x="756" y="153" width="3" height="4" fill="#131722"/>
<rect x="757" y="154" width="1" height="2" fill="#fff"/>
<rect x="761" y="145" width="1" height="55" fill="#131722"/>
<rect x="760" y="153" width="3" height="43" fill="#131722"/>
<rect x="765" y="177" width="1" height="33" fill="#131722"/>
<rect x="764" y="181" width="3" height="15" fill="#131722"/>
<rect x="765" y="182" width="1" height="13" fill="#fff"/>
<rect x="768" y="159" width="1" height="30" fill="#131722"/>
<rect x="767" y="160" width="3" height="22" fill="#131722"/>
<rect x="768" y="161" width="1" height="20" fill="#fff"/>
<rect x="772" y="157" width="1" height="18" fill="#131722"/>
<rect x="771" y="160" width="3" height="15" fill="#131722"/>
<rect x="776" y="166" width="1" height="44" fill="#131722"/>
<rect x="775" y="174" width="3" height="29" fill="#131722"/>
<rect x="780" y="181" width="1" height="33" fill="#131722"/>
<rect x="779" y="187" width="3" height="16" fill="#131722"/>
<rect x="780" y="188" width="1" height="14" fill="#fff"/>
<rect x="784" y="184" width="1" height="23" fill="#131722"/>
<rect x="783" y="187" width="3" height="6" fill="#131722"/>
<rect x="788" y="164" width="1" height="29" fill="#131722"/>
<rect x="787" y="170" width="3" height="23" fill="#131722"/>
<rect x="788" y="171" width="1" height="21" fill="#fff"/>
<rect x="792" y="167" width="1" height="69" fill="#131722"/>
<rect x="791" y="170" width="3" height="64" fill="#131722"/>
<rect x="796" y="214" width="1" height="20" fill="#131722"/>
<rect x="795" y="221" width="3" height="13" fill="#131722"/>
<rect x="796" y="222" width="1" height="11" fill="#fff"/>
<rect x="799" y="188" width="1" height="51" fill="#131722"/>
<rect x="798" y="190" width="3" height="32" fill="#131722"/>
<rect x="799" y="191" width="1" height="30" fill="#fff"/>
<rect x="803" y="171" width="1" height="26" fill="#131722"/>
<rect x="802" y="184" width="3" height="7" fill="#131722"/>
<rect x="803" y="185" width="1" height="5" fill="#fff"/>
<rect x="807" y="166" width="1" height="39" fill="#131722"/>
<rect x="806" y="184" width="3" height="11" fill="#131722"/>
<rect x="811" y="169" width="1" height="31" fill="#131722"/>
<rect x="810" y="191" width="3" height="4" fill="#131722"/>
<rect x="811" y="192" width="1" height="2" fill="#fff"/>
<rect x="815" y="189" width="1" height="19" fill="#131722"/>
<rect x="814" y="191" width="3" height="10" fill="#131722"/>
<rect x="819" y="186" width="1" height="72" fill="#131722"/>
<rect x="818" y="200" width="3" height="35" fill="#131722"/>
<rect x="823" y="231" width="1" height="144" fill="#131722"/>
<rect x="822" y="234" width="3" height="55" fill="#131722"/>
<rect x="827" y="282" width="1" height="24" fill="#131722"/>
<rect x="826" y="285" width="3" height="4" fill="#131722"/>
<rect x="827" y="286" width="1" height="2" fill="#fff"/>
<rect x="831" y="267" width="1" height="46" fill="#131722"/>
<rect x="830" y="273" width="3" height="13" fill="#131722"/>
<rect x="831" y="274" width="1" height="11" fill="#fff"/>
<rect x="834" y="255" width="1" height="23" fill="#131722"/>
<rect x="833" y="271" width="3" height="3" fill="#131722"/>
<rect x="834" y="272" width="1" height="1" fill="#fff"/>
<rect x="838" y="264" width="1" height="31" fill="#131722"/>
<rect x="837" y="271" width="3" height="2" fill="#131722"/>
<rect x="842" y="268" width="1" height="43" fill="#131722"/>
<rect x="841" y="272" width="3" height="37" fill="#131722"/>
<rect x="846" y="277" width="1" height="39" fill="#131722"/>
<rect x="845" y="308" width="3" height="6" fill="#131722"/>
<rect x="850" y="284" width="1" height="34" fill="#131722"/>
<rect x="849" y="286" width="3" height="28" fill="#131722"/>
<rect x="850" y="287" width="1" height="26" fill="#fff"/>
<rect x="854" y="269" width="1" height="26" fill="#131722"/>
<rect x="853" y="278" width="3" height="9" fill="#131722"/>
<rect x="854" y="279" width="1" height="7" fill="#fff"/>
<rect x="858" y="276" width="1" height="55" fill="#131722"/>
<rect x="857" y="278" width="3" height="41" fill="#131722"/>
<rect x="862" y="294" width="1" height="29" fill="#131722"/>
<rect x="861" y="298" width="3" height="21" fill="#131722"/>
<rect x="862" y="299" width="1" height="19" fill="#fff"/>
<rect x="865" y="284" width="1" height="36" fill="#131722"/>
<rect x="864" y="292" width="3" height="7" fill="#131722"/>
<rect x="865" y="293" width="1" height="5" fill="#fff"/>
<rect x="869" y="285" width="1" height="23" fill="#131722"/>
<rect x="868" y="292" width="3" height="16" fill="#131722"/>
<rect x="873" y="302" width="1" height="31" fill="#131722"/>
<rect x="872" y="307" width="3" height="19" fill="#131722"/>
<rect x="877" y="310" width="1" height="23" fill="#131722"/>
<rect x="876" y="317" width="3" height="9" fill="#131722"/>
<rect x="877" y="318" width="1" height="7" fill="#fff"/>
<rect x="881" y="299" width="1" height="23" fill="#131722"/>
<rect x="880" y="317" width="3" height="2" fill="#131722"/>
<rect x="885" y="308" width="1" height="24" fill="#131722"/>
<rect x="884" y="316" width="3" height="3" fill="#131722"/>
<rect x="885" y="317" width="1" height="1" fill="#fff"/>
<rect x="889" y="286" width="1" height="33" fill="#131722"/>
<rect x="888" y="292" width="3" height="25" fill="#131722"/>
<rect x="889" y="293" width="1" height="23" fill="#fff"/>
<rect x="893" y="283" width="1" height="14" fill="#131722"/>
<rect x="892" y="292" width="3" height="4" fill="#131722"/>
<rect x="896" y="261" width="1" height="42" fill="#131722"/>
<rect x="895" y="268" width="3" height="28" fill="#131722"/>
<rect x="896" y="269" width="1" height="26" fill="#fff"/>
<rect x="900" y="256" width="1" height="17" fill="#131722"/>
<rect x="899" y="268" width="3" height="1" fill="#131722"/>
<rect x="904" y="264" width="1" height="12" fill="#131722"/>
<rect x="903" y="268" width="3" height="6" fill="#131722"/>
<rect x="908" y="263" width="1" height="22" fill="#131722"/>
<rect x="907" y="269" width="3" height="5" fill="#131722"/>
<rect x="908" y="270" width="1" height="3" fill="#fff"/>
<rect x="912" y="253" width="1" height="20" fill="#131722"/>
<rect x="911" y="269" width="3" height="2" fill="#131722"/>
<rect x="916" y="270" width="1" height="41" fill="#131722"/>
<rect x="915" y="270" width="3" height="39" fill="#131722"/>
<rect x="920" y="301" width="1" height="24" fill="#131722"/>
<rect x="919" y="308" width="3" height="14" fill="#131722"/>
<rect x="924" y="304" width="1" height="24" fill="#131722"/>
<rect x="923" y="313" width="3" height="9" fill="#131722"/>
<rect x="924" y="314" width="1" height="7" fill="#fff"/>
<rect x="927" y="296" width="1" height="35" fill="#131722"/>
<rect x="926" y="313" width="3" height="12" fill="#131722"/>
<rect x="931" y="303" width="1" height="21" fill="#131722"/>
<rect x="930" y="306" width="3" height="19" fill="#131722"/>
<rect x="931" y="307" width="1" height="17" fill="#fff"/>
<rect x="935" y="303" width="1" height="16" fill="#131722"/>
<rect x="934" y="306" width="3" height="6" fill="#131722"/>
<rect x="939" y="308" width="1" height="22" fill="#131722"/>
<rect x="938" y="311" width="3" height="11" fill="#131722"/>
<rect x="943" y="308" width="1" height="25" fill="#131722"/>
<rect x="942" y="321" width="3" height="9" fill="#131722"/>
<rect x="947" y="314" width="1" height="55" fill="#131722"/>
<rect x="946" y="329" width="3" height="30" fill="#131722"/>
<rect x="951" y="354" width="1" height="13" fill="#131722"/>
<rect x="950" y="358" width="3" height="5" fill="#131722"/>
<rect x="955" y="361" width="1" height="31" fill="#131722"/>
<rect x="954" y="362" width="3" height="19" fill="#131722"/>
<rect x="959" y="372" width="1" height="21" fill="#131722"/>
<rect x="958" y="379" width="3" height="2" fill="#131722"/>
<rect x="962" y="366" width="1" height="19" fill="#131722"/>
<rect x="961" y="377" width="3" height="3" fill="#131722"/>
<rect x="962" y="378" width="1" height="1" fill="#fff"/>
<rect x="966" y="372" width="1" height="32" fill="#131722"/>
<rect x="965" y="377" width="3" height="1" fill="#131722"/>
<rect x="970" y="362" width="1" height="22" fill="#131722"/>
<rect x="969" y="366" width="3" height="12" fill="#131722"/>
<rect x="970" y="367" width="1" height="10" fill="#fff"/>
<rect x="974" y="347" width="1" height="23" fill="#131722"/>
<rect x="973" y="352" width="3" height="15" fill="#131722"/>
<rect x="974" y="353" width="1" height="13" fill="#fff"/>
<rect x="978" y="345" width="1" height="26" fill="#131722"/>
<rect x="977" y="352" width="3" height="17" fill="#131722"/>
<rect x="982" y="358" width="1" height="20" fill="#131722"/>
<rect x="981" y="362" width="3" height="7" fill="#131722"/>
<rect x="982" y="363" width="1" height="5" fill="#fff"/>
<rect x="986" y="353" width="1" height="15" fill="#131722"/>
<rect x="985" y="361" width="3" height="2" fill="#131722"/>
<rect x="990" y="357" width="1" height="11" fill="#131722"/>
<rect x="989" y="361" width="3" height="2" fill="#131722"/>
<rect x="993" y="361" width="1" height="20" fill="#131722"/>
<rect x="992" y="362" width="3" height="11" fill="#131722"/>
<rect x="997" y="367" width="1" height="17" fill="#131722"/>
<rect x="996" y="371" width="3" height="2" fill="#131722"/>
<rect x="1001" y="368" width="1" height="18" fill="#131722"/>
<rect x="1000" y="371" width="3" height="8" fill="#131722"/>
<rect x="1005" y="357" width="1" height="36" fill="#131722"/>
<rect x="1004" y="378" width="3" height="14" fill="#131722"/>
<rect x="1009" y="386" width="1" height="69" fill="#131722"/>
<rect x="1008" y="391" width="3" height="53" fill="#131722"/>
<rect x="1013" y="438" width="1" height="34" fill="#131722"/>
<rect x="1012" y="443" width="3" height="17" fill="#131722"/>
<rect x="1017" y="442" width="1" height="23" fill="#131722"/>
<rect x="1016" y="445" width="3" height="15" fill="#131722"/>
<rect x="1017" y="446" width="1" height="13" fill="#fff"/>
<rect x="1021" y="429" width="1" height="56" fill="#131722"/>
<rect x="1020" y="440" width="3" height="6" fill="#131722"/>
<rect x="1021" y="441" width="1" height="4" fill="#fff"/>
<rect x="1024" y="429" width="1" height="23" fill="#131722"/>
<rect x="1023" y="436" width="3" height="5" fill="#131722"/>
<rect x="1024" y="437" width="1" height="3" fill="#fff"/>
<rect x="1028" y="413" width="1" height="32" fill="#131722"/>
<rect x="1027" y="436" width="3" height="3" fill="#131722"/>
<rect x="1032" y="433" width="1" height="21" fill="#131722"/>
<rect x="1031" y="434" width="3" height="5" fill="#131722"/>
<rect x="1032" y="435" width="1" height="3" fill="#fff"/>
<rect x="1036" y="424" width="1" height="22" fill="#131722"/>
<rect x="1035" y="427" width="3" height="8" fill="#131722"/>
<rect x="1036" y="428" width="1" height="6" fill="#fff"/>
<rect x="1040" y="415" width="1" height="18" fill="#131722"/>
<rect x="1039" y="422" width="3" height="6" fill="#131722"/>
<rect x="1040" y="423" width="1" height="4" fill="#fff"/>
<rect x="1044" y="419" width="1" height="13" fill="#131722"/>
<rect x="1043" y="422" width="3" height="4" fill="#131722"/>
<rect x="1048" y="415" width="1" height="25" fill="#131722"/>
<rect x="1047" y="418" width="3" height="8" fill="#131722"/>
<rect x="1048" y="419" width="1" height="6" fill="#fff"/>
<rect x="1052" y="408" width="1" height="16" fill="#131722"/>
<rect x="1051" y="415" width="3" height="4" fill="#131722"/>
<rect x="1052" y="416" width="1" height="2" fill="#fff"/>
<rect x="1055" y="413" width="1" height="28" fill="#131722"/>
<rect x="1054" y="415" width="3" height="23" fill="#131722"/>
<rect x="1059" y="431" width="1" height="14" fill="#131722"/>
<rect x="1058" y="432" width="3" height="6" fill="#131722"/>
<rect x="1059" y="433" width="1" height="4" fill="#fff"/>
<rect x="1063" y="378" width="1" height="57" fill="#131722"/>
<rect x="1062" y="380" width="3" height="53" fill="#131722"/>
<rect x="1063" y="381" width="1" height="51" fill="#fff"/>
<rect x="1067" y="376" width="1" height="13" fill="#131722"/>
<rect x="1066" y="380" width="3" height="4" fill="#131722"/>
<rect x="1071" y="367" width="1" height="19" fill="#131722"/>
<rect x="1070" y="371" width="3" height="13" fill="#131722"/>
<rect x="1071" y="372" width="1" height="11" fill="#fff"/>
<rect x="1075" y="345" width="1" height="34" fill="#131722"/>
<rect x="1074" y="353" width="3" height="19" fill="#131722"/>
<rect x="1075" y="354" width="1" height="17" fill="#fff"/>
<rect x="1079" y="333" width="1" height="34" fill="#131722"/>
<rect x="1078" y="350" width="3" height="4" fill="#131722"/>
<rect x="1079" y="351" width="1" height="2" fill="#fff"/>
<rect x="1083" y="341" width="1" height="21" fill="#131722"/>
<rect x="1082" y="346" width="3" height="5" fill="#131722"/>
<rect x="1083" y="347" width="1" height="3" fill="#fff"/>
<rect x="1087" y="329" width="1" height="32" fill="#131722"/>
<rect x="1086" y="346" width="3" height="12" fill="#131722"/>
<rect x="1090" y="352" width="1" height="23" fill="#131722"/>
<rect x="1089" y="357" width="3" height="15" fill="#131722"/>
<rect x="1094" y="363" width="1" height="15" fill="#131722"/>
<rect x="1093" y="371" width="3" height="3" fill="#131722"/>
<rect x="1098" y="366" width="1" height="11" fill="#131722"/>
<rect x="1097" y="373" width="3" height="3" fill="#131722"/>
<rect x="1102" y="365" width="1" height="15" fill="#131722"/>
<rect x="1101" y="369" width="3" height="7" fill="#131722"/>
<rect x="1102" y="370" width="1" height="5" fill="#fff"/>
<rect x="1106" y="342" width="1" height="28" fill="#131722"/>
<rect x="1105" y="344" width="3" height="26" fill="#131722"/>
<rect x="1106" y="345" width="1" height="24" fill="#fff"/>
<rect x="1110" y="344" width="1" height="15" fill="#131722"/>
<rect x="1109" y="344" width="3" height="9" fill="#131722"/>
<rect x="1114" y="349" width="1" height="50" fill="#131722"/>
<rect x="1113" y="352" width="3" height="42" fill="#131722"/>
<rect x="1118" y="388" width="1" height="18" fill="#131722"/>
<rect x="1117" y="393" width="3" height="8" fill="#131722"/>
<rect x="1121" y="394" width="1" height="10" fill="#131722"/>
<rect x="1120" y="398" width="3" height="3" fill="#131722"/>
<rect x="1121" y="399" width="1" height="1" fill="#fff"/>
<rect x="1125" y="398" width="1" height="26" fill="#131722"/>
<rect x="1124" y="398" width="3" height="22" fill="#131722"/>
<rect x="1129" y="406" width="1" height="32" fill="#131722"/>
<rect x="1128" y="419" width="3" height="18" fill="#131722"/>
<rect x="1133" y="418" width="1" height="26" fill="#131722"/>
<rect x="1132" y="421" width="3" height="16" fill="#131722"/>
<rect x="1133" y="422" width="1" height="14" fill="#fff"/>
<rect x="1137" y="409" width="1" height="26" fill="#131722"/>
<rect x="1136" y="421" width="3" height="13" fill="#131722"/>
<rect x="1141" y="401" width="1" height="67" fill="#131722"/>
<rect x="1140" y="420" width="3" height="14" fill="#131722"/>
<rect x="1141" y="421" width="1" height="12" fill="#fff"/>
<rect x="1145" y="403" width="1" height="20" fill="#131722"/>
<rect x="1144" y="409" width="3" height="12" fill="#131722"/>
<rect x="1145" y="410" width="1" height="10" fill="#fff"/>
<rect x="1149" y="396" width="1" height="20" fill="#131722"/>
<rect x="1148" y="409" width="3" height="2" fill="#131722"/>
<rect x="1152" y="401" width="1" height="35" fill="#131722"/>
<rect x="1151" y="410" width="3" height="18" fill="#131722"/>
<rect x="1156" y="348" width="1" height="82" fill="#131722"/>
<rect x="1155" y="361" width="3" height="67" fill="#131722"/>
<rect x="1156" y="362" width="1" height="65" fill="#fff"/>
<rect x="1160" y="339" width="1" height="26" fill="#131722"/>
<rect x="1159" y="346" width="3" height="16" fill="#131722"/>
<rect x="1160" y="347" width="1" height="14" fill="#fff"/>
<rect x="1164" y="334" width="1" height="25" fill="#131722"/>
<rect x="1163" y="346" width="3" height="7" fill="#131722"/>
<rect x="1168" y="350" width="1" height="27" fill="#131722"/>
<rect x="1167" y="352" width="3" height="19" fill="#131722"/>
<rect x="1172" y="369" width="1" height="48" fill="#131722"/>
<rect x="1171" y="370" width="3" height="41" fill="#131722"/>
<rect x="1176" y="403" width="1" height="14" fill="#131722"/>
<rect x="1175" y="407" width="3" height="4" fill="#131722"/>
<rect x="1176" y="408" width="1" height="2" fill="#fff"/>
<rect x="1180" y="404" width="1" height="19" fill="#131722"/>
<rect x="1179" y="407" width="3" height="13" fill="#131722"/>
<rect x="1183" y="405" width="1" height="29" fill="#131722"/>
<rect x="1182" y="419" width="3" height="6" fill="#131722"/>
<rect x="1187" y="407" width="1" height="18" fill="#131722"/>
<rect x="1186" y="415" width="3" height="10" fill="#131722"/>
<rect x="1187" y="416" width="1" height="8" fill="#fff"/>
<rect x="1191" y="368" width="1" height="48" fill="#131722"/>
<rect x="1190" y="376" width="3" height="40" fill="#131722"/>
<rect x="1191" y="377" width="1" height="38" fill="#fff"/>
<rect x="1195" y="375" width="1" height="42" fill="#131722"/>
<rect x="1194" y="376" width="3" height="31" fill="#131722"/>
<rect x="1199" y="397" width="1" height="24" fill="#131722"/>
<rect x="1198" y="406" width="3" height="10" fill="#131722"/>
<rect x="1203" y="406" width="1" height="10" fill="#131722"/>
<rect x="1202" y="414" width="3" height="2" fill="#131722"/>
<rect x="1207" y="408" width="1" height="21" fill="#131722"/>
<rect x="1206" y="414" width="3" height="13" fill="#131722"/>
<rect x="1211" y="400" width="1" height="29" fill="#131722"/>
<rect x="1210" y="403" width="3" height="24" fill="#131722"/>
<rect x="1211" y="404" width="1" height="22" fill="#fff"/>
<rect x="1215" y="401" width="1" height="21" fill="#131722"/>
<rect x="1214" y="403" width="3" height="6" fill="#131722"/>
<rect x="1218" y="379" width="1" height="35" fill="#131722"/>
<rect x="1217" y="386" width="3" height="23" fill="#131722"/>
<rect x="1218" y="387" width="1" height="21" fill="#fff"/>
<rect x="1222" y="381" width="1" height="12" fill="#131722"/>
<rect x="1221" y="386" width="3" height="3" fill="#131722"/>
<rect x="1226" y="371" width="1" height="27" fill="#131722"/>
<rect x="1225" y="378" width="3" height="11" fill="#131722"/>
<rect x="1226" y="379" width="1" height="9" fill="#fff"/>
<rect x="1230" y="370" width="1" height="11" fill="#131722"/>
<rect x="1229" y="373" width="3" height="6" fill="#131722"/>
<rect x="1230" y="374" width="1" height="4" fill="#fff"/>
<rect x="1234" y="372" width="1" height="16" fill="#131722"/>
<rect x="1233" y="373" width="3" height="12" fill="#131722"/>
<rect x="1238" y="381" width="1" height="13" fill="#131722"/>
<rect x="1237" y="384" width="3" height="4" fill="#131722"/>
<rect x="1242" y="359" width="1" height="30" fill="#131722"/>
<rect x="1241" y="371" width="3" height="17" fill="#131722"/>
<rect x="1242" y="372" width="1" height="15" fill="#fff"/>
<rect x="1246" y="363" width="1" height="15" fill="#131722"/>
<rect x="1245" y="364" width="3" height="8" fill="#131722"/>
<rect x="1246" y="365" width="1" height="6" fill="#fff"/>
<rect x="1249" y="348" width="1" height="20" fill="#131722"/>
<rect x="1248" y="351" width="3" height="14" fill="#131722"/>
<rect x="1249" y="352" width="1" height="12" fill="#fff"/>
<rect x="1253" y="338" width="1" height="18" fill="#131722"/>
<rect x="1252" y="347" width="3" height="5" fill="#131722"/>
<rect x="1253" y="348" width="1" height="3" fill="#fff"/>
<rect x="1257" y="341" width="1" height="9" fill="#131722"/>
<rect x="1256" y="345" width="3" height="3" fill="#131722"/>
<rect x="1257" y="346" width="1" height="1" fill="#fff"/>
<rect x="1261" y="315" width="1" height="31" fill="#131722"/>
<rect x="1260" y="317" width="3" height="29" fill="#131722"/>
<rect x="1261" y="318" width="1" height="27" fill="#fff"/>
<rect x="1265" y="300" width="1" height="19" fill="#131722"/>
<rect x="1264" y="313" width="3" height="5" fill="#131722"/>
<rect x="1265" y="314" width="1" height="3" fill="#fff"/>
<rect x="1269" y="301" width="1" height="14" fill="#131722"/>
<rect x="1268" y="309" width="3" height="5" fill="#131722"/>
<rect x="1269" y="310" width="1" height="3" fill="#fff"/>
<rect x="1273" y="306" width="1" height="15" fill="#131722"/>
<rect x="1272" y="309" width="3" height="6" fill="#131722"/>
<rect x="1277" y="307" width="1" height="29" fill="#131722"/>
<rect x="1276" y="314" width="3" height="20" fill="#131722"/>
<rect x="1280" y="318" width="1" height="30" fill="#131722"/>
<rect x="1279" y="323" width="3" height="11" fill="#131722"/>
<rect x="1280" y="324" width="1" height="9" fill="#fff"/>
<rect x="1284" y="312" width="1" height="19" fill="#131722"/>
<rect x="1283" y="323" width="3" height="7" fill="#131722"/>
<rect x="1288" y="309" width="1" height="23" fill="#131722"/>
<rect x="1287" y="322" width="3" height="8" fill="#131722"/>
<rect x="1288" y="323" width="1" height="6" fill="#fff"/>
<rect x="1292" y="316" width="1" height="21" fill="#131722"/>
<rect x="1291" y="320" width="3" height="3" fill="#131722"/>
<rect x="1292" y="321" width="1" height="1" fill="#fff"/>
<rect x="1296" y="312" width="1" height="22" fill="#131722"/>
<rect x="1295" y="320" width="3" height="14" fill="#131722"/>
<rect x="1300" y="333" width="1" height="29" fill="#131722"/>
<rect x="1299" y="333" width="3" height="29" fill="#131722"/>
<rect x="1304" y="352" width="1" height="14" fill="#131722"/>
<rect x="1303" y="358" width="3" height="4" fill="#131722"/>
<rect x="1304" y="359" width="1" height="2" fill="#fff"/>
<rect x="1308" y="351" width="1" height="23" fill="#131722"/>
<rect x="1307" y="358" width="3" height="15" fill="#131722"/>
<rect x="1312" y="365" width="1" height="9" fill="#131722"/>
<rect x="1311" y="366" width="3" height="7" fill="#131722"/>
<rect x="1312" y="367" width="1" height="5" fill="#fff"/>
<rect x="1315" y="358" width="1" height="19" fill="#131722"/>
<rect x="1314" y="366" width="3" height="8" fill="#131722"/>
<rect x="1319" y="370" width="1" height="39" fill="#131722"/>
<rect x="1318" y="373" width="3" height="33" fill="#131722"/>
<rect x="1323" y="391" width="1" height="17" fill="#131722"/>
<rect x="1322" y="399" width="3" height="7" fill="#131722"/>
<rect x="1323" y="400" width="1" height="5" fill="#fff"/>
<rect x="1327" y="380" width="1" height="24" fill="#131722"/>
<rect x="1326" y="385" width="3" height="15" fill="#131722"/>
<rect x="1327" y="386" width="1" height="13" fill="#fff"/>
<rect x="1331" y="381" width="1" height="24" fill="#131722"/>
<rect x="1330" y="385" width="3" height="16" fill="#131722"/>
<rect x="1335" y="389" width="1" height="13" fill="#131722"/>
<rect x="1334" y="393" width="3" height="8" fill="#131722"/>
<rect x="1335" y="394" width="1" height="6" fill="#fff"/>
<rect x="1339" y="391" width="1" height="9" fill="#131722"/>
<rect x="1338" y="393" width="3" height="3" fill="#131722"/>
<rect x="1343" y="392" width="1" height="13" fill="#131722"/>
<rect x="1342" y="395" width="3" height="9" fill="#131722"/>
<rect x="1346" y="386" width="1" height="31" fill="#131722"/>
<rect x="1345" y="390" width="3" height="14" fill="#131722"/>
<rect x="1346" y="391" width="1" height="12" fill="#fff"/>
<rect x="1350" y="378" width="1" height="14" fill="#131722"/>
<rect x="1349" y="381" width="3" height="10" fill="#131722"/>
<rect x="1350" y="382" width="1" height="8" fill="#fff"/>
<rect x="1354" y="373" width="1" height="16" fill="#131722"/>
<rect x="1353" y="381" width="3" height="3" fill="#131722"/>
<rect x="1358" y="363" width="1" height="39" fill="#131722"/>
<rect x="1357" y="383" width="3" height="12" fill="#131722"/>
<rect x="1362" y="390" width="1" height="19" fill="#131722"/>
<rect x="1361" y="394" width="3" height="10" fill="#131722"/>
<rect x="1366" y="400" width="1" height="8" fill="#131722"/>
<rect x="1365" y="403" width="3" height="4" fill="#131722"/>
<rect x="1370" y="400" width="1" height="12" fill="#131722"/>
<rect x="1369" y="406" width="3" height="1" fill="#131722"/>
<rect x="1374" y="392" width="1" height="29" fill="#131722"/>
<rect x="1373" y="394" width="3" height="13" fill="#131722"/>
<rect x="1374" y="395" width="1" height="11" fill="#fff"/>
<rect x="1377" y="390" width="1" height="37" fill="#131722"/>
<rect x="1376" y="394" width="3" height="29" fill="#131722"/>
<rect x="1381" y="406" width="1" height="19" fill="#131722"/>
<rect x="1380" y="409" width="3" height="14" fill="#131722"/>
<rect x="1381" y="410" width="1" height="12" fill="#fff"/>
<rect x="1385" y="395" width="1" height="18" fill="#131722"/>
<rect x="1384" y="403" width="3" height="7" fill="#131722"/>
<rect x="1385" y="404" width="1" height="5" fill="#fff"/>
<rect x="1389" y="400" width="1" height="22" fill="#131722"/>
<rect x="1388" y="403" width="3" height="14" fill="#131722"/>
<rect x="1393" y="414" width="1" height="15" fill="#131722"/>
<rect x="1392" y="416" width="3" height="13" fill="#131722"/>
<rect x="1397" y="415" width="1" height="16" fill="#131722"/>
<rect x="1396" y="418" width="3" height="11" fill="#131722"/>
<rect x="1397" y="419" width="1" height="9" fill="#fff"/>
<rect x="1401" y="410" width="1" height="13" fill="#131722"/>
<rect x="1400" y="417" width="3" height="2" fill="#131722"/>
<rect x="1405" y="416" width="1" height="14" fill="#131722"/>
<rect x="1404" y="417" width="3" height="11" fill="#131722"/>
<rect x="1408" y="400" width="1" height="28" fill="#131722"/>
<rect x="1407" y="403" width="3" height="25" fill="#131722"/>
<rect x="1408" y="404" width="1" height="23" fill="#fff"/>
<rect x="1412" y="401" width="1" height="52" fill="#131722"/>
<rect x="1411" y="403" width="3" height="39" fill="#131722"/>
<rect x="1416" y="440" width="1" height="17" fill="#131722"/>
<rect x="1415" y="441" width="3" height="8" fill="#131722"/>
<rect x="1420" y="446" width="1" height="17" fill="#131722"/>
<rect x="1419" y="448" width="3" height="7" fill="#131722"/>
<rect x="1424" y="454" width="1" height="22" fill="#131722"/>
<rect x="1423" y="454" width="3" height="19" fill="#131722"/>
<rect x="1428" y="469" width="1" height="51" fill="#131722"/>
<rect x="1427" y="472" width="3" height="49" fill="#131722"/>
<rect x="1432" y="488" width="1" height="36" fill="#131722"/>
<rect x="1431" y="508" width="3" height="13" fill="#131722"/>
<rect x="1432" y="509" width="1" height="11" fill="#fff"/>
<rect x="1436" y="494" width="1" height="55" fill="#131722"/>
<rect x="1435" y="508" width="3" height="25" fill="#131722"/>
<rect x="1440" y="520" width="1" height="41" fill="#131722"/>
<rect x="1439" y="532" width="3" height="1" fill="#131722"/>
<rect x="1443" y="509" width="1" height="27" fill="#131722"/>
<rect x="1442" y="529" width="3" height="4" fill="#131722"/>
<rect x="1443" y="530" width="1" height="2" fill="#fff"/>
<rect x="1447" y="516" width="1" height="21" fill="#131722"/>
<rect x="1446" y="520" width="3" height="10" fill="#131722"/>
<rect x="1447" y="521" width="1" height="8" fill="#fff"/>
<rect x="1451" y="503" width="1" height="24" fill="#131722"/>
<rect x="1450" y="505" width="3" height="16" fill="#131722"/>
<rect x="1451" y="506" width="1" height="14" fill="#fff"/>
<rect x="1455" y="505" width="1" height="27" fill="#131722"/>
<rect x="1454" y="505" width="3" height="18" fill="#131722"/>
<rect x="1459" y="511" width="1" height="16" fill="#131722"/>
<rect x="1458" y="515" width="3" height="8" fill="#131722"/>
<rect x="1459" y="516" width="1" height="6" fill="#fff"/>
<rect x="1463" y="512" width="1" height="25" fill="#131722"/>
<rect x="1462" y="515" width="3" height="22" fill="#131722"/>
<rect x="1467" y="514" width="1" height="22" fill="#131722"/>
<rect x="1466" y="517" width="3" height="20" fill="#131722"/>
<rect x="1467" y="518" width="1" height="18" fill="#fff"/>
<rect x="1471" y="511" width="1" height="25" fill="#131722"/>
<rect x="1470" y="517" width="3" height="14" fill="#131722"/>
<rect x="1474" y="525" width="1" height="8" fill="#131722"/>
<rect x="1473" y="528" width="3" height="3" fill="#131722"/>
<rect x="1474" y="529" width="1" height="1" fill="#fff"/>
<rect x="1478" y="515" width="1" height="16" fill="#131722"/>
<rect x="1477" y="517" width="3" height="12" fill="#131722"/>
<rect x="1478" y="518" width="1" height="10" fill="#fff"/>
<rect x="1482" y="513" width="1" height="21" fill="#131722"/>
<rect x="1481" y="517" width="3" height="16" fill="#131722"/>
<rect x="1486" y="522" width="1" height="15" fill="#131722"/>
<rect x="1485" y="525" width="3" height="8" fill="#131722"/>
<rect x="1486" y="526" width="1" height="6" fill="#fff"/>
<rect x="1490" y="518" width="1" height="11" fill="#131722"/>
<rect x="1489" y="525" width="3" height="2" fill="#131722"/>
<rect x="1494" y="522" width="1" height="23" fill="#131722"/>
<rect x="1493" y="526" width="3" height="5" fill="#131722"/>
<rect x="1498" y="528" width="1" height="13" fill="#131722"/>
<rect x="1497" y="530" width="3" height="8" fill="#131722"/>
<rect x="1502" y="530" width="1" height="9" fill="#131722"/>
<rect x="1501" y="532" width="3" height="6" fill="#131722"/>
<rect x="1502" y="533" width="1" height="4" fill="#fff"/>
<rect x="1505" y="526" width="1" height="9" fill="#131722"/>
<rect x="1504" y="527" width="3" height="6" fill="#131722"/>
<rect x="1505" y="528" width="1" height="4" fill="#fff"/>
<rect x="1509" y="494" width="1" height="35" fill="#131722"/>
<rect x="1508" y="500" width="3" height="28" fill="#131722"/>
<rect x="1509" y="501" width="1" height="26" fill="#fff"/>
<rect x="1513" y="492" width="1" height="14" fill="#131722"/>
<rect x="1512" y="499" width="3" height="2" fill="#131722"/>
<rect x="1517" y="497" width="1" height="32" fill="#131722"/>
<rect x="1516" y="499" width="3" height="25" fill="#131722"/>
<rect x="1521" y="521" width="1" height="5" fill="#131722"/>
<rect x="1520" y="521" width="3" height="3" fill="#131722"/>
<rect x="1521" y="522" width="1" height="1" fill="#fff"/></g>
<rect x="15" y="562" width="1761" height="1" fill="rgba(0,0,0,0.06)"/>
<rect x="15" y="564" width="1761" height="1" fill="rgba(0,0,0,0.06)"/>
<rect x="15" y="704" width="1761" height="1" fill="rgba(0,0,0,0.06)"/>
<rect x="15" y="706" width="1761" height="1" fill="rgba(0,0,0,0.06)"/>
<rect x="16" y="631" width="1655" height="1" fill="rgba(0,0,0,0.06)"/>
<rect x="16" y="633" width="1655" height="1" fill="rgba(0,0,0,0.06)"/>
<rect x="1670" y="42" width="1" height="704" fill="rgba(0,0,0,0.06)"/>
<rect x="1672" y="42" width="1" height="704" fill="rgba(0,0,0,0.06)"/>
<rect x="16" y="42" width="1" height="704" fill="rgba(0,0,0,0.06)"/>
<rect x="1774" y="42" width="1" height="704" fill="rgba(0,0,0,0.06)"/>
<rect x="16" y="42" width="1759" height="1" fill="rgba(0,0,0,0.06)"/>
<rect x="16" y="745" width="1759" height="1" fill="rgba(0,0,0,0.06)"/>
<rect x="15" y="563" width="1761" height="1" fill="#e0e3eb"/>
<rect x="15" y="705" width="1761" height="1" fill="#ffffff"/>
<rect x="1671" y="42" width="1" height="705" fill="#ffffff"/>
<rect x="16" y="632" width="1655" height="1" fill="#e8e9ee"/>
<path d="M15.8,636.6 L19.7,632.7 L23.6,658.2 L27.5,657.2 L31.3,656.3 L35.2,665.5 L39.1,666.3 L43.0,673.9 L46.8,675.4 L50.7,687.9 L54.6,668.5 L58.5,675.0 L62.4,673.9 L66.2,679.2 L70.1,661.7 L74.0,662.4 L77.9,658.5 L81.8,660.6 L85.6,667.8 L89.5,670.3 L93.4,665.1 L97.3,657.2 L101.2,658.9 L105.0,654.4 L108.9,646.1 L112.8,654.6 L116.7,658.8 L120.5,657.3 L124.4,664.5 L128.3,665.0 L132.2,643.8 L136.1,646.5 L139.9,643.3 L143.8,650.4 L147.7,634.1 L151.6,628.0 L155.5,629.7 L159.3,637.7 L163.2,638.9 L167.1,648.4 L171.0,649.8 L174.9,649.1 L178.7,664.1 L182.6,658.7 L186.5,651.9 L190.4,646.4 L194.3,658.3 L198.1,654.3 L202.0,641.5 L205.9,642.4 L209.8,635.1 L213.6,639.3 L217.5,646.4 L221.4,644.8 L225.3,639.6 L229.2,636.0 L233.0,644.5 L236.9,641.2 L240.8,643.2 L244.7,648.6 L248.6,642.0 L252.4,643.9 L256.3,638.4 L260.2,645.7 L264.1,647.9 L268.0,647.1 L271.8,653.1 L275.7,656.2 L279.6,654.8 L283.5,652.2 L287.3,658.7 L291.2,665.2 L295.1,642.4 L299.0,641.2 L302.9,630.3 L306.7,625.7 L310.6,617.6 L314.5,606.4 L318.4,596.6 L322.3,594.2 L326.1,594.1 L330.0,585.3 L333.9,591.6 L337.8,607.2 L341.7,613.8 L345.5,622.3 L349.4,613.2 L353.3,607.5 L357.2,598.8 L361.0,592.1 L364.9,599.1 L368.8,590.1 L372.7,596.2 L376.6,596.5 L380.4,606.1 L384.3,593.1 L388.2,598.6 L392.1,599.0 L396.0,608.1 L399.8,617.6 L403.7,617.3 L407.6,607.3 L411.5,596.7 L415.4,600.2 L419.2,598.6 L423.1,597.6 L427.0,613.3 L430.9,607.1 L434.7,622.9 L438.6,612.1 L442.5,613.4 L446.4,614.1 L450.3,627.1 L454.1,626.3 L458.0,616.6 L461.9,614.1 L465.8,610.5 L469.7,611.2 L473.5,602.0 L477.4,598.0 L481.3,638.4 L485.2,642.0 L489.1,640.2 L492.9,648.2 L496.8,646.1 L500.7,640.2 L504.6,646.3 L508.4,632.8 L512.3,627.0 L516.2,629.5 L520.1,632.4 L524.0,626.2 L527.8,633.5 L531.7,655.9 L535.6,665.0 L539.5,647.4 L543.4,640.4 L547.2,649.2 L551.1,649.7 L555.0,646.8 L558.9,651.2 L562.8,656.5 L566.6,652.9 L570.5,639.0 L574.4,618.1 L578.3,620.9 L582.2,618.6 L586.0,614.4 L589.9,605.7 L593.8,593.8 L597.7,603.3 L601.5,602.8 L605.4,599.5 L609.3,601.4 L613.2,592.6 L617.1,602.5 L620.9,598.1 L624.8,598.3 L628.7,586.1 L632.6,591.6 L636.5,589.8 L640.3,588.5 L644.2,582.6 L648.1,578.7 L652.0,604.2 L655.9,612.6 L659.7,610.5 L663.6,613.1 L667.5,605.1 L671.4,620.6 L675.2,629.9 L679.1,621.2 L683.0,615.1 L686.9,617.2 L690.8,620.3 L694.6,622.4 L698.5,612.9 L702.4,614.9 L706.3,623.8 L710.2,626.4 L714.0,623.7 L717.9,615.2 L721.8,599.5 L725.7,603.2 L729.6,615.9 L733.4,616.5 L737.3,620.5 L741.2,619.3 L745.1,613.9 L748.9,626.3 L752.8,644.6 L756.7,643.0 L760.6,657.4 L764.5,650.7 L768.3,641.8 L772.2,646.5 L776.1,655.9 L780.0,648.7 L783.9,650.4 L787.7,640.3 L791.6,660.1 L795.5,654.8 L799.4,642.5 L803.3,640.2 L807.1,643.6 L811.0,642.4 L814.9,645.5 L818.8,657.1 L822.6,670.7 L826.5,669.3 L830.4,663.1 L834.3,662.2 L838.2,662.6 L842.0,672.3 L845.9,673.5 L849.8,658.7 L853.7,654.6 L857.6,666.6 L861.4,656.8 L865.3,653.8 L869.2,658.5 L873.1,663.9 L877.0,659.4 L880.8,660.0 L884.7,658.3 L888.6,645.1 L892.5,646.6 L896.3,633.0 L900.2,633.1 L904.1,635.7 L908.0,633.3 L911.9,633.8 L915.7,652.7 L919.6,657.9 L923.5,652.9 L927.4,657.5 L931.3,646.1 L935.1,648.5 L939.0,653.2 L942.9,656.6 L946.8,667.9 L950.7,669.5 L954.5,675.6 L958.4,674.5 L962.3,672.7 L966.2,672.9 L970.1,663.1 L973.9,651.4 L977.8,659.5 L981.7,654.7 L985.6,653.9 L989.4,654.4 L993.3,660.3 L997.2,658.8 L1001.1,663.2 L1005.0,670.0 L1008.8,688.5 L1012.7,692.6 L1016.6,680.2 L1020.5,676.0 L1024.4,672.9 L1028.2,673.6 L1032.1,669.6 L1036.0,663.3 L1039.9,658.3 L1043.8,660.2 L1047.6,653.4 L1051.5,650.8 L1055.4,663.9 L1059.3,659.0 L1063.1,622.3 L1067.0,623.9 L1070.9,617.4 L1074.8,608.9 L1078.7,607.8 L1082.5,605.9 L1086.4,614.7 L1090.3,625.1 L1094.2,626.5 L1098.1,628.0 L1101.9,624.0 L1105.8,609.5 L1109.7,616.4 L1113.6,643.2 L1117.5,646.7 L1121.3,645.8 L1125.2,656.4 L1129.1,663.8 L1133.0,653.0 L1136.8,658.4 L1140.7,649.3 L1144.6,642.2 L1148.5,642.9 L1152.4,652.1 L1156.2,617.4 L1160.1,611.8 L1164.0,615.5 L1167.9,625.0 L1171.8,643.0 L1175.6,641.6 L1179.5,646.5 L1183.4,648.6 L1187.3,643.7 L1191.2,625.3 L1195.0,638.8 L1198.9,642.2 L1202.8,641.7 L1206.7,647.0 L1210.5,635.5 L1214.4,637.7 L1218.3,627.3 L1222.2,628.6 L1226.1,623.9 L1229.9,621.4 L1233.8,628.1 L1237.7,629.9 L1241.6,621.4 L1245.5,618.4 L1249.3,612.1 L1253.2,610.3 L1257.1,609.2 L1261.0,597.4 L1264.9,596.1 L1268.7,594.7 L1272.6,598.7 L1276.5,614.6 L1280.4,609.9 L1284.2,614.5 L1288.1,610.7 L1292.0,609.6 L1295.9,620.9 L1299.8,640.5 L1303.6,638.2 L1307.5,646.9 L1311.4,642.5 L1315.3,646.9 L1319.2,663.1 L1323.0,657.9 L1326.9,648.3 L1330.8,655.7 L1334.7,650.2 L1338.6,651.4 L1342.4,655.9 L1346.3,645.3 L1350.2,639.2 L1354.1,640.3 L1358.0,647.2 L1361.8,652.8 L1365.7,654.8 L1369.6,654.7 L1373.5,643.7 L1377.3,660.7 L1381.2,649.3 L1385.1,644.6 L1389.0,652.8 L1392.9,659.0 L1396.7,650.6 L1400.6,650.1 L1404.5,655.8 L1408.4,637.2 L1412.3,657.3 L1416.1,660.2 L1420.0,663.0 L1423.9,670.0 L1427.8,684.4 L1431.7,676.2 L1435.5,682.3 L1439.4,682.5 L1443.3,680.1 L1447.2,672.5 L1451.0,661.5 L1454.9,668.1 L1458.8,663.3 L1462.7,670.8 L1466.6,657.6 L1470.4,662.7 L1474.3,660.8 L1478.2,653.4 L1482.1,659.8 L1486.0,655.1 L1489.8,655.6 L1493.7,657.4 L1497.6,661.1 L1501.5,657.0 L1505.4,652.5 L1509.2,632.5 L1513.1,632.0 L1517.0,646.9 L1520.9,645.6" fill="none" stroke="#131722" stroke-width="1.35" stroke-linejoin="round"/>
<line x1="1265" y1="589.3" x2="1510" y2="667.5" stroke="#131722" stroke-width="1.15" stroke-dasharray="5.2 5.8"/>
<line x1="1432" y1="687" x2="1536.4" y2="643.4" stroke="#2ef20c" stroke-width="1.5"/>
<path d="M1582,508 H1671 V535 H1582 a2,2 0 0 1 -2,-2 V510 a2,2 0 0 1 2,-2 Z" fill="#fff"/>
<path d="M1672,508 H1767 a2,2 0 0 1 2,2 V554 a2,2 0 0 1 -2,2 H1672 Z" fill="#fff"/>
<g fill="#131722">
<path d="M15,765.3 H27 V779.8 H20.7 V771.1 H15 Z"/>
<circle cx="31.6" cy="768.4" r="3.1"/>
<path d="M35.9,765.3 H44.1 L39,779.8 H31.9 Z"/>
</g>
<text x="15.02" y="28.9" font-size="17.8" fill="#131722" font-weight="normal" textLength="131.9" lengthAdjust="spacingAndGlyphs">BitcoinMaximus1</text>
<text x="153.78" y="28.9" font-size="17.8" fill="#131722" font-weight="normal" textLength="77.7" lengthAdjust="spacingAndGlyphs">published</text>
<text x="236.71" y="28.9" font-size="17.8" fill="#131722" font-weight="normal" textLength="19.7" lengthAdjust="spacingAndGlyphs">on</text>
<text x="262.7" y="28.9" font-size="17.8" fill="#131722" font-weight="normal" textLength="141.2" lengthAdjust="spacingAndGlyphs">TradingView.com,</text>
<text x="410.3" y="28.9" font-size="17.8" fill="#131722" font-weight="normal" textLength="28.0" lengthAdjust="spacingAndGlyphs">Jun</text>
<text x="443.3" y="28.9" font-size="17.8" fill="#131722" font-weight="normal" textLength="25.5" lengthAdjust="spacingAndGlyphs">02,</text>
<text x="473.65" y="28.9" font-size="17.8" fill="#131722" font-weight="normal" textLength="37.5" lengthAdjust="spacingAndGlyphs">2022</text>
<text x="517.8" y="28.9" font-size="17.8" fill="#131722" font-weight="normal" textLength="44.2" lengthAdjust="spacingAndGlyphs">09:04</text>
<text x="566.69" y="28.9" font-size="17.8" fill="#131722" font-weight="normal" textLength="51.9" lengthAdjust="spacingAndGlyphs">UTC+2</text>
<text x="1683.62" y="67" font-size="17.4" fill="#fff" font-weight="normal" textLength="41.6" lengthAdjust="spacingAndGlyphs" stroke="#fff" stroke-width="0.5">USDT</text>
<text x="1686.1" y="114.7" font-size="17.4" fill="#fff" font-weight="normal" textLength="73.0" lengthAdjust="spacingAndGlyphs" stroke="#fff" stroke-width="0.5">64000.00</text>
<text x="1686.1" y="163.2" font-size="17.4" fill="#fff" font-weight="normal" textLength="73.0" lengthAdjust="spacingAndGlyphs" stroke="#fff" stroke-width="0.5">60000.00</text>
<text x="1686.1" y="211.7" font-size="17.4" fill="#fff" font-weight="normal" textLength="73.0" lengthAdjust="spacingAndGlyphs" stroke="#fff" stroke-width="0.5">56000.00</text>
<text x="1686.1" y="260.2" font-size="17.4" fill="#fff" font-weight="normal" textLength="73.0" lengthAdjust="spacingAndGlyphs" stroke="#fff" stroke-width="0.5">52000.00</text>
<text x="1686.1" y="308.7" font-size="17.4" fill="#fff" font-weight="normal" textLength="73.0" lengthAdjust="spacingAndGlyphs" stroke="#fff" stroke-width="0.5">48000.00</text>
<text x="1686.1" y="357.2" font-size="17.4" fill="#fff" font-weight="normal" textLength="73.0" lengthAdjust="spacingAndGlyphs" stroke="#fff" stroke-width="0.5">44000.00</text>
<text x="1686.1" y="405.7" font-size="17.4" fill="#fff" font-weight="normal" textLength="73.0" lengthAdjust="spacingAndGlyphs" stroke="#fff" stroke-width="0.5">40000.00</text>
<text x="1686.1" y="454.2" font-size="17.4" fill="#fff" font-weight="normal" textLength="73.0" lengthAdjust="spacingAndGlyphs" stroke="#fff" stroke-width="0.5">36000.00</text>
<text x="1686.1" y="502.7" font-size="17.4" fill="#fff" font-weight="normal" textLength="73.0" lengthAdjust="spacingAndGlyphs" stroke="#fff" stroke-width="0.5">32000.00</text>
<text x="1686.5" y="591.3" font-size="17.4" fill="#fff" font-weight="normal" textLength="44.3" lengthAdjust="spacingAndGlyphs" stroke="#fff" stroke-width="0.5">75.00</text>
<text x="1686.5" y="640.5" font-size="17.4" fill="#fff" font-weight="normal" textLength="44.3" lengthAdjust="spacingAndGlyphs" stroke="#fff" stroke-width="0.5">50.00</text>
<text x="1686.5" y="689.8" font-size="17.4" fill="#fff" font-weight="normal" textLength="44.3" lengthAdjust="spacingAndGlyphs" stroke="#fff" stroke-width="0.5">25.00</text>
<text x="87.0" y="733.3" font-size="17.4" fill="#fff" font-weight="normal" textLength="29.4" lengthAdjust="spacingAndGlyphs" stroke="#fff" stroke-width="0.5">Jun</text>
<text x="322.9" y="733.3" font-size="17.4" fill="#fff" font-weight="normal" textLength="30.4" lengthAdjust="spacingAndGlyphs" stroke="#fff" stroke-width="0.5">Aug</text>
<text x="443.8" y="733.3" font-size="17.4" fill="#fff" font-weight="normal" textLength="28.5" lengthAdjust="spacingAndGlyphs" stroke="#fff" stroke-width="0.5">Sep</text>
<text x="679.11" y="733.3" font-size="17.4" fill="#fff" font-weight="normal" textLength="30.7" lengthAdjust="spacingAndGlyphs" stroke="#fff" stroke-width="0.5">Nov</text>
<text x="911.1" y="733.3" font-size="17.4" fill="#fff" font-weight="bold" textLength="42.0" lengthAdjust="spacingAndGlyphs">2022</text>
<text x="1036.62" y="733.3" font-size="17.4" fill="#fff" font-weight="normal" textLength="29.2" lengthAdjust="spacingAndGlyphs" stroke="#fff" stroke-width="0.5">Feb</text>
<text x="1266.5" y="733.3" font-size="17.4" fill="#fff" font-weight="normal" textLength="28.1" lengthAdjust="spacingAndGlyphs" stroke="#fff" stroke-width="0.5">Apr</text>
<text x="1502.9" y="733.3" font-size="17.4" fill="#fff" font-weight="normal" textLength="29.4" lengthAdjust="spacingAndGlyphs" stroke="#fff" stroke-width="0.5">Jun</text>
<text x="1587.97" y="527.9" font-size="18.5" fill="#131722" font-weight="normal" textLength="72.8" lengthAdjust="spacingAndGlyphs">BTCUSDT</text>
<text x="1686.65" y="527.9" font-size="18.5" fill="#131722" font-weight="normal" textLength="73.5" lengthAdjust="spacingAndGlyphs">29953.38</text>
<text x="1687.23" y="548.7" font-size="18.3" fill="#3a3d45" font-weight="normal" textLength="69.3" lengthAdjust="spacingAndGlyphs">16:55:47</text>
<text x="50.0" y="780.9" font-size="20" fill="#131722" font-weight="normal" textLength="105.3" lengthAdjust="spacingAndGlyphs">TradingView</text>
</svg>
</body></html>
